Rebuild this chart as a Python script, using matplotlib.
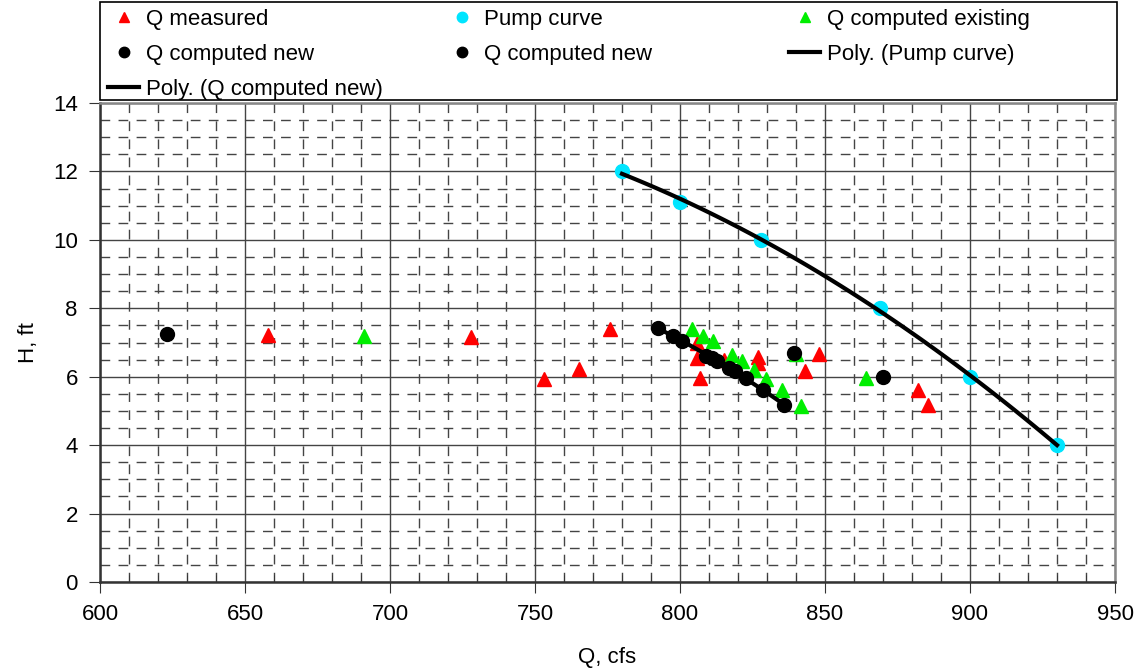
import numpy as np
import matplotlib
matplotlib.use("Agg")
import matplotlib.pyplot as plt
from matplotlib.ticker import MultipleLocator
from matplotlib.patches import Rectangle

plt.rcParams['font.family'] = ['Liberation Sans', 'DejaVu Sans']

# data
q_measured_x = [658, 728, 753, 765, 776, 806, 806, 807, 815, 827, 827, 843, 848, 882, 885.5]
q_measured_y = [7.22, 7.15, 5.93, 6.23, 7.4, 7.0, 6.55, 5.96, 6.5, 6.58, 6.4, 6.17, 6.66, 5.6, 5.17]

pump_x = [780, 800, 828, 869, 900, 930]
pump_y = [12.0, 11.1, 10.0, 8.0, 6.0, 4.0]

q_exist_x = [691, 804, 808, 811.5, 818, 821.5, 825.5, 829.7, 835, 840, 841.7, 864]
q_exist_y = [7.2, 7.4, 7.2, 7.05, 6.64, 6.46, 6.2, 5.93, 5.6, 6.66, 5.14, 5.96]

q_new_a_x = [623, 839.3, 870]
q_new_a_y = [7.25, 6.69, 6.0]

q_new_b_x = [792.5, 797.5, 800.6, 809, 811, 812.7, 817, 819, 822.7, 828.6, 836]
q_new_b_y = [7.42, 7.19, 7.05, 6.6, 6.55, 6.46, 6.25, 6.17, 5.96, 5.6, 5.17]

W, H = 1140, 668
fig = plt.figure(figsize=(W / 100, H / 100), dpi=100)
ax = fig.add_axes([100 / W, 1 - 582 / H, 1015 / W, 479 / H])

h_meas, = ax.plot(q_measured_x, q_measured_y, '^', color='#ff0000', ms=10, ls='none', zorder=3)
h_pump, = ax.plot(pump_x, pump_y, 'o', color='#00e5ff', ms=10, ls='none', zorder=3)
h_exist, = ax.plot(q_exist_x, q_exist_y, '^', color='#00ee00', ms=10, ls='none', zorder=4)
h_new_a, = ax.plot(q_new_a_x, q_new_a_y, 'o', color='black', ms=10, ls='none', zorder=5)
h_new_b, = ax.plot(q_new_b_x, q_new_b_y, 'o', color='black', ms=10, ls='none', zorder=5)

# trendlines (2nd order poly, like excel)
cp = np.polyfit(pump_x, pump_y, 2)
xx = np.linspace(min(pump_x), max(pump_x), 100)
h_poly_pump, = ax.plot(xx, np.polyval(cp, xx), color='black', lw=3, zorder=6)

cn = np.polyfit(q_new_b_x, q_new_b_y, 2)
xx2 = np.linspace(min(q_new_b_x), max(q_new_b_x), 50)
h_poly_new, = ax.plot(xx2, np.polyval(cn, xx2), color='black', lw=3, zorder=6)

ax.set_xlim(600, 950)
ax.set_ylim(0, 14)
ax.xaxis.set_major_locator(MultipleLocator(50))
ax.xaxis.set_minor_locator(MultipleLocator(10))
ax.yaxis.set_major_locator(MultipleLocator(2))
ax.yaxis.set_minor_locator(MultipleLocator(0.5))

ax.grid(which='major', color='#444444', lw=1.0, ls='-')
ax.grid(which='minor', color='#444444', lw=1.0, ls=(0, (7, 6)))
ax.set_axisbelow(True)

ax.tick_params(axis='both', which='major', labelsize=16, length=8, direction='out', color='#333333', pad=8)
ax.tick_params(axis='x', which='minor', length=5, direction='in', color='#333333')
ax.tick_params(axis='y', which='minor', length=0)

for s in ['left', 'bottom']:
    ax.spines[s].set_color('#333333')
    ax.spines[s].set_linewidth(1.8)
for s in ['top', 'right']:
    ax.spines[s].set_color('#888888')
    ax.spines[s].set_linewidth(1.8)

ax.set_xlabel('Q, cfs', fontsize=16, labelpad=16)
ax.set_ylabel('H, ft', fontsize=16, labelpad=10)

# legend: excel-style box with three equal columns
fig.patches.append(Rectangle((100 / W, 1 - 100 / H), 1017 / W, 98 / H, transform=fig.transFigure,
                             fill=True, facecolor='white', edgecolor='black', lw=1.2, zorder=1))

columns = [
    ([h_meas, h_new_a, h_poly_new], ['Q measured', 'Q computed new', 'Poly. (Q computed new)'], 108),
    ([h_pump, h_new_b], ['Pump curve', 'Q computed new'], 446),
    ([h_exist, h_poly_pump], ['Q computed existing', 'Poly. (Pump curve)'], 789),
]
for hs, ls_, x0 in columns:
    lg = fig.legend(hs, ls_, loc='upper left', bbox_to_anchor=(x0 / W, 1 - 9 / H),
                    fontsize=16, frameon=False, numpoints=1, handlelength=1.4,
                    handletextpad=0.3, borderaxespad=0, borderpad=0,
                    labelspacing=0.62, markerscale=0.75)
    lg.set_zorder(2)

fig.savefig('out.png', dpi=100)
